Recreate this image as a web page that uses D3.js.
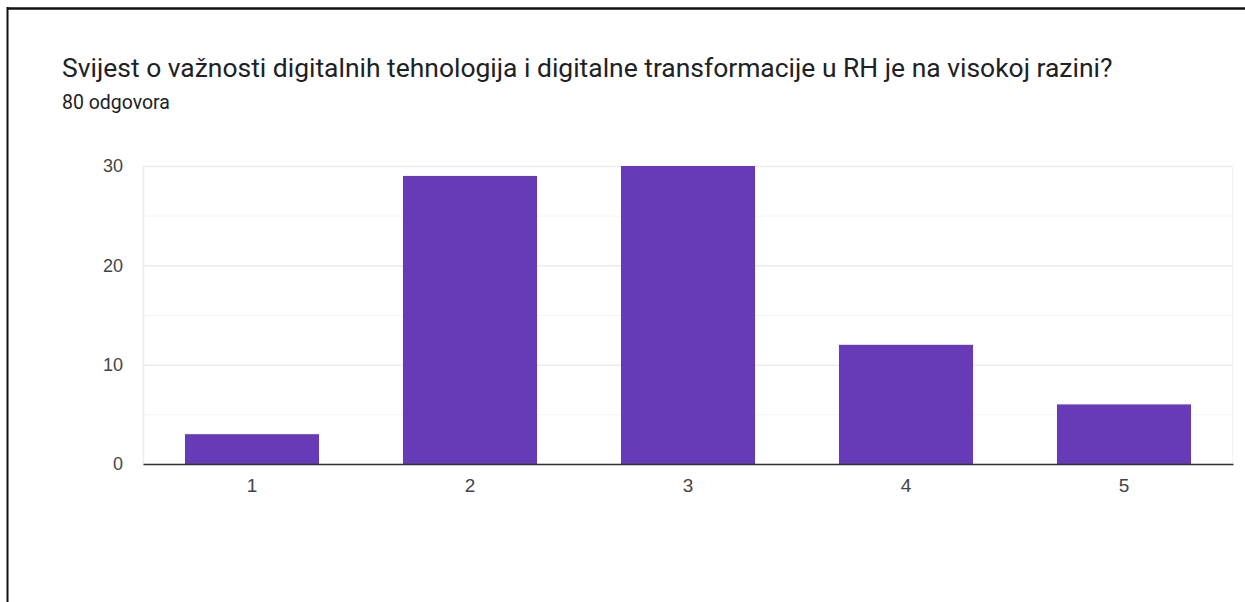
<!DOCTYPE html>
<html>
<head>
<meta charset="utf-8">
<script src="https://cdn.jsdelivr.net/npm/d3@7"></script>
<style>
  html, body { margin: 0; padding: 0; background: #fff; }
  svg { display: block; font-family: Roboto, "Noto Sans", sans-serif; }
  .axis-y .domain { display: none; }
  .axis-y text, .axis-x text { fill: #444; }
</style>
</head>
<body>
<div class="charts-container"></div>
<script>
"use strict";

// Chart data
const title = "Svijest o važnosti digitalnih tehnologija i digitalne transformacije u RH je na visokoj razini?";
const subtitle = "80 odgovora";
const categories = ["1", "2", "3", "4", "5"];
const counts = [3, 29, 30, 12, 6];
const yTicks = [0, 10, 20, 30];
const yMinorTicks = [5, 15, 25];

const width = 1245;
const height = 602;
const margin = { top: 166, left: 143, right: 12, bottom: 138 };
const innerWidth = width - margin.left - margin.right;
const innerHeight = height - margin.top - margin.bottom;

const svg = d3.select(".charts-container")
  .append("svg")
    .attr("width", width)
    .attr("height", height);

// Frame lines (top and left)
svg.append("line")
  .attr("x1", 7).attr("y1", 8.5).attr("x2", width).attr("y2", 8.5)
  .attr("stroke", "#111").attr("stroke-width", 2.5);
svg.append("line")
  .attr("x1", 7.5).attr("y1", 7).attr("x2", 7.5).attr("y2", height)
  .attr("stroke", "#111").attr("stroke-width", 2);

// Fit a text to the width it has in the reference
function fitText(sel, base, target) {
  sel.attr("font-size", base);
  const len = sel.node().getComputedTextLength();
  sel.attr("font-size", base * target / len);
}

const titleText = svg.append("text")
  .attr("x", 62)
  .attr("y", 77)
  .attr("fill", "#202124")
  .text(title);
fitText(titleText, 24, 1051);

const subtitleText = svg.append("text")
  .attr("x", 62)
  .attr("y", 109)
  .attr("fill", "#202124")
  .text(subtitle);
fitText(subtitleText, 16, 108);

const innerChart = svg.append("g")
  .attr("transform", `translate(${margin.left}, ${margin.top})`);

const xScale = d3.scaleBand()
  .domain(categories)
  .range([0, innerWidth])
  .paddingInner(0.385)
  .paddingOuter(0.1925);

const yScale = d3.scaleLinear()
  .domain([0, 30])
  .range([innerHeight, 0]);

// Minor gridlines
innerChart.selectAll("line.minor")
  .data(yMinorTicks)
  .join("line")
    .attr("class", "minor")
    .attr("x1", 0)
    .attr("x2", innerWidth)
    .attr("y1", d => yScale(d) + 0.5)
    .attr("y2", d => yScale(d) + 0.5)
    .attr("stroke", "#f4f4f4")
    .attr("stroke-width", 1);

// Y axis with major gridlines
const yAxis = d3.axisLeft(yScale)
  .tickValues(yTicks)
  .tickSize(0)
  .tickPadding(20);

innerChart.append("g")
  .attr("class", "axis-y")
  .call(yAxis)
  .call(g => g.selectAll(".tick text").attr("font-size", 18).attr("font-family", "Arial, 'Liberation Sans', sans-serif"))
  .call(g => g.selectAll(".tick")
    .append("line")
      .attr("x1", 0)
      .attr("x2", innerWidth)
      .attr("stroke", "#ebebeb")
      .attr("stroke-width", 1.5));

// Plot area side borders
innerChart.append("line")
  .attr("x1", 0.5).attr("x2", 0.5).attr("y1", 0).attr("y2", innerHeight)
  .attr("stroke", "#ebebeb").attr("stroke-width", 1.5);
innerChart.append("line")
  .attr("x1", innerWidth - 0.5).attr("x2", innerWidth - 0.5).attr("y1", 0).attr("y2", innerHeight)
  .attr("stroke", "#f2f2f2").attr("stroke-width", 1);

// Bars
innerChart.selectAll("rect.bar")
  .data(counts)
  .join("rect")
    .attr("class", "bar")
    .attr("x", (d, i) => xScale(categories[i]))
    .attr("y", d => yScale(d))
    .attr("width", xScale.bandwidth())
    .attr("height", d => innerHeight - yScale(d))
    .attr("fill", "#673ab7");

// X axis
const xAxis = d3.axisBottom(xScale)
  .tickSize(0)
  .tickPadding(15)
  .tickSizeOuter(0);

innerChart.append("g")
  .attr("class", "axis-x")
  .attr("transform", `translate(0, ${innerHeight})`)
  .call(xAxis)
  .call(g => g.select(".domain").attr("stroke", "#333").attr("stroke-width", 1.5))
  .call(g => g.selectAll(".tick text").attr("font-size", 19).attr("font-family", "Arial, 'Liberation Sans', sans-serif"));
</script>
</body>
</html>
